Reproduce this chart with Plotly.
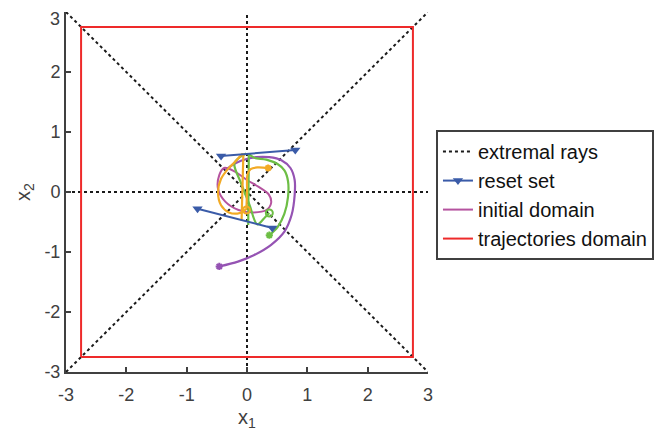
import plotly.graph_objects as go

# ---- data ----
ray_x = [[-3, 3], [-3, 3], [-3, 3], [0, 0]]
ray_y = [[3, -3], [-3, 3], [0, 0], [-3, 3]]

domain_x = [-2.75, 2.75, 2.75, -2.75, -2.75]
domain_y = [-2.75, -2.75, 2.75, 2.75, -2.75]

reset_x = [-0.43, 0.80, None, -0.82, 0.42]
reset_y = [0.60, 0.70, None, -0.28, -0.60]

init_x = [-0.38, -0.46, -0.48, -0.36, -0.14, 0.10, 0.32, 0.40, 0.36, 0.20, 0.0, -0.20, -0.38]
init_y = [0.40, 0.28, 0.05, -0.16, -0.30, -0.34, -0.30, -0.18, -0.04, 0.08, 0.20, 0.34, 0.40]

purple_x = [-0.46, -0.15, 0.12, 0.40, 0.62, 0.74, 0.79, 0.79, 0.72, 0.57, 0.37, 0.15, -0.10, -0.27, -0.36]
purple_y = [-1.24, -1.16, -1.05, -0.88, -0.66, -0.38, -0.05, 0.20, 0.40, 0.53, 0.58, 0.58, 0.52, 0.43, 0.36]

green1_x = [0.37, 0.51, 0.62, 0.68, 0.68, 0.62, 0.50, 0.32, 0.12, 0.03]
green1_y = [-0.72, -0.58, -0.36, -0.08, 0.18, 0.36, 0.47, 0.54, 0.57, 0.63]
green2_x = [0.03, 0.02, 0.02]
green2_y = [0.63, 0.0, -0.55]
green3_x = [-0.01, -0.12, -0.21, -0.10, 0.04, 0.17, 0.30, 0.37]
green3_y = [0.64, 0.58, 0.47, 0.15, -0.21, -0.54, -0.42, -0.35]

orange1_x = [0.35, 0.17, 0.06, 0.01, 0.0, -0.01]
orange1_y = [0.40, 0.41, 0.38, 0.30, 0.0, -0.30]
orange2_x = [-0.07, -0.21, -0.31, -0.43, -0.48, -0.43, -0.30, -0.16, -0.05, -0.02]
orange2_y = [0.64, 0.49, 0.39, 0.22, 0.0, -0.22, -0.34, -0.36, -0.32, -0.28]
orange3_x = [-0.06, -0.07, -0.09]
orange3_y = [0.64, 0.10, -0.48]

tick_vals = [-3, -2, -1, 0, 1, 2, 3]
x_tick_text = ["-3", "-2", "-1", "0", "1", "2", "3"]
# the top y label is placed as an annotation so that it is not cut by the page edge
y_tick_text = ["-3", "-2", "-1", "0", "1", "2", ""]
y_top_label = "3"

BLACK = "#1a1a1a"
BLUE = "#3a5ba8"
MAGENTA = "#b5539f"
RED = "#ee2a2a"
PURPLE = "#9553b3"
GREEN = "#6dbe45"
ORANGE = "#f2aa25"
AX = "#404040"
FONT = "Liberation Sans, Arial, Helvetica"

fig = go.Figure()

for i, (xs, ys) in enumerate(zip(ray_x, ray_y)):
    fig.add_trace(go.Scatter(x=xs, y=ys, mode="lines",
                             line=dict(color=BLACK, width=2, dash="dot"),
                             name="extremal rays", showlegend=(i == 0),
                             legendgroup="rays", legendrank=1))

fig.add_trace(go.Scatter(x=domain_x, y=domain_y, mode="lines",
                         line=dict(color=RED, width=2),
                         name="trajectories domain", legendrank=4))


def traj(xs, ys, color, shape="spline"):
    fig.add_trace(go.Scatter(x=xs, y=ys, mode="lines",
                             line=dict(color=color, width=2.2, shape=shape, smoothing=0.9),
                             showlegend=False, hoverinfo="skip"))


traj(purple_x, purple_y, PURPLE)

fig.add_trace(go.Scatter(x=init_x, y=init_y, mode="lines",
                         line=dict(color=MAGENTA, width=2, shape="spline", smoothing=1.0),
                         name="initial domain", legendrank=3))

traj(green1_x, green1_y, GREEN)
traj(green2_x, green2_y, GREEN, "linear")
traj(green3_x, green3_y, GREEN)
traj(orange1_x, orange1_y, ORANGE)
traj(orange2_x, orange2_y, ORANGE)
traj(orange3_x, orange3_y, ORANGE, "linear")

fig.add_trace(go.Scatter(x=reset_x, y=reset_y, mode="lines+markers",
                         line=dict(color=BLUE, width=2),
                         marker=dict(symbol="triangle-down", size=9, color=BLUE),
                         name="reset set", legendrank=2))

# start / end markers
for xs, ys, c in [(purple_x, purple_y, PURPLE), (green1_x, green1_y, GREEN),
                  (orange1_x, orange1_y, ORANGE)]:
    fig.add_trace(go.Scatter(x=[xs[0]], y=[ys[0]], mode="markers",
                             marker=dict(symbol="asterisk", size=6, color=c,
                                         line=dict(color=c, width=2)),
                             showlegend=False, hoverinfo="skip"))
fig.add_trace(go.Scatter(x=[green3_x[-1], orange1_x[-1]], y=[green3_y[-1], orange1_y[-1]],
                         mode="markers",
                         marker=dict(symbol="circle-open", size=7,
                                     color=[GREEN, ORANGE], line=dict(width=2)),
                         showlegend=False, hoverinfo="skip"))

axis_common = dict(range=[-3, 3], tickvals=tick_vals,
                   showgrid=False, zeroline=False, showline=True, automargin=False,
                   linecolor=AX, linewidth=2, ticks="inside", ticklen=5,
                   tickcolor=AX, tickwidth=2, mirror=False,
                   tickfont=dict(family=FONT, size=18, color=AX))

# the page body has an 8px margin, so the figure is offset by 8px
fig.update_layout(
    width=654, height=433,
    margin=dict(l=58, r=234, t=4, b=69),
    plot_bgcolor="white", paper_bgcolor="white",
    xaxis=dict(**axis_common, ticktext=x_tick_text, ticklabelstandoff=5),
    yaxis=dict(**axis_common, ticktext=y_tick_text),
    legend=dict(x=1.022, y=0.672, xanchor="left", yanchor="top",
                bordercolor=AX, borderwidth=2, bgcolor="white",
                font=dict(family=FONT, size=20, color="#111111"),
                itemwidth=30, tracegroupgap=0),
    showlegend=True,
    annotations=[
        dict(text="x<sub>1</sub>", xref="paper", yref="paper", x=0.5, y=-0.13,
             xanchor="center", yanchor="middle", showarrow=False,
             font=dict(family=FONT, size=20, color=AX)),
        dict(text="x<sub>2</sub>", xref="paper", yref="paper", x=-0.116, y=0.5,
             xanchor="center", yanchor="middle", showarrow=False, textangle=-90,
             font=dict(family=FONT, size=20, color=AX)),
        dict(text=y_top_label, xref="paper", yref="y", x=0, y=tick_vals[-1],
             xanchor="right", yanchor="top", xshift=-5, yshift=4, borderpad=0,
             showarrow=False, font=dict(family=FONT, size=18, color=AX)),
    ],
)

fig.write_html("out.html")
